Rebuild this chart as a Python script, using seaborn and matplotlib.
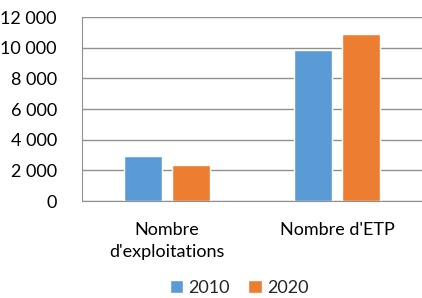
import pandas as pd
import matplotlib
matplotlib.use("Agg")
import matplotlib.pyplot as plt
from matplotlib.ticker import FuncFormatter, MultipleLocator
import seaborn as sns

# DONNEES
categories = ["Nombre\nd'exploitations", "Nombre d'ETP"]
annees = ["2010", "2020"]
valeurs_2010 = [2950, 9850]
valeurs_2020 = [2370, 10870]

df = pd.DataFrame({
    "Categorie": categories * 2,
    "Annee": [annees[0]] * 2 + [annees[1]] * 2,
    "Valeur": valeurs_2010 + valeurs_2020,
})

sns.set_style("white")
plt.rcParams['font.family'] = ['Lato', 'DejaVu Sans']

fig = plt.figure(figsize=(4.22, 2.98), dpi=100)
ax = fig.add_axes([82 / 422, 1 - 201 / 298, 340 / 422, 184 / 298])

sns.barplot(
    data=df, x="Categorie", y="Valeur", hue="Annee",
    palette=["#5B9BD5", "#ED7D31"], width=0.568, gap=0.21,
    saturation=1, ax=ax, legend=True
)

ax.set_xlim(-0.5, 1.5)
ax.set_ylim(0, 12000)
ax.yaxis.set_major_locator(MultipleLocator(2000))
ax.yaxis.set_major_formatter(FuncFormatter(lambda v, p: f"{int(v):,}".replace(",", " ")))
ax.grid(axis="y", color="#909090", linewidth=1)
ax.set_axisbelow(True)
for s in ["top", "right"]:
    ax.spines[s].set_visible(False)
ax.spines["left"].set_color("#909090")
ax.spines["bottom"].set_color("#909090")
ax.set_xlabel("")
ax.set_ylabel("")
ax.tick_params(axis="both", length=0, labelsize=13, colors="black")
ax.tick_params(axis="x", pad=15)
ax.tick_params(axis="y", pad=18)
for lbl in ax.get_xticklabels():
    lbl.set_linespacing(1.45)

ax.legend(
    loc="center", bbox_to_anchor=(239 / 422, 1 - 288 / 298),
    bbox_transform=fig.transFigure, ncol=2, frameon=False,
    fontsize=13, handlelength=0.75, handleheight=0.75,
    handletextpad=0.3, columnspacing=1.0
)

plt.savefig("out.png", dpi=100)
